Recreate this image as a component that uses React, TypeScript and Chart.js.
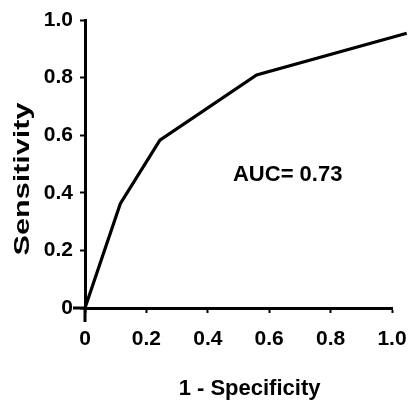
import React, { useEffect, useRef } from "react";
import { Chart, registerables } from "chart.js";

Chart.register(...registerables);

const fpr = [0, 0.115, 0.244, 0.559, 1.048];
const tpr = [0, 0.362, 0.583, 0.809, 0.954];
const xTicks = [0, 0.2, 0.4, 0.6, 0.8, 1.0];
const yTicks = [0, 0.2, 0.4, 0.6, 0.8, 1.0];
const xTitle = "1 - Specificity";
const yTitle = "Sensitivity";
const aucLabel = "AUC= 0.73";

const FONT = "'Liberation Sans', Arial, sans-serif";

const fmt = (v: number) => (v === 0 ? "0" : v.toFixed(1));

export default function App() {
  const ref = useRef<HTMLCanvasElement | null>(null);

  useEffect(() => {
    if (!ref.current) return;
    const extras = {
      id: "extras",
      afterDraw(chart: any) {
        const { ctx, scales } = chart;
        const xs = scales.x;
        const ys = scales.y;
        const x0 = xs.getPixelForValue(0);
        const y0 = ys.getPixelForValue(0);
        ctx.save();
        ctx.strokeStyle = "#000";
        ctx.lineWidth = 3;
        ctx.beginPath();
        ctx.moveTo(x0 - 12, y0);
        ctx.lineTo(x0, y0);
        ctx.moveTo(x0, y0);
        ctx.lineTo(x0, y0 + 14);
        ctx.stroke();
        // rotated y title, stretched along its length
        ctx.fillStyle = "#000";
        ctx.font = `bold 22px ${FONT}`;
        ctx.textAlign = "center";
        ctx.textBaseline = "middle";
        ctx.translate(23, ys.getPixelForValue(0.448));
        ctx.rotate(-Math.PI / 2);
        ctx.scale(1.39, 1);
        ctx.fillText(yTitle, 0, 0);
        ctx.restore();
        ctx.save();
        ctx.fillStyle = "#000";
        ctx.font = `bold 22px ${FONT}`;
        ctx.textAlign = "left";
        ctx.textBaseline = "middle";
        ctx.fillText(aucLabel, xs.getPixelForValue(0.482), ys.getPixelForValue(0.462));
        ctx.textAlign = "center";
        ctx.fillText(xTitle, xs.getPixelForValue(0.536), 389);
        ctx.restore();
      },
    };

    const chart = new Chart(ref.current, {
      type: "line",
      data: {
        datasets: [
          {
            data: fpr.map((x, i) => ({ x, y: tpr[i] })),
            borderColor: "#000",
            borderWidth: 3.2,
            pointRadius: 0,
            tension: 0,
            fill: false,
            clip: false as any,
          },
        ],
      },
      options: {
        animation: false,
        responsive: false,
        maintainAspectRatio: false,
        layout: { padding: { left: 0, right: 19, top: 20, bottom: 0 } },
        plugins: { legend: { display: false }, tooltip: { enabled: false } },
        scales: {
          x: {
            type: "linear",
            min: 0,
            max: 1,
            afterFit: (s: any) => {
              s.height = 92;
              s.paddingLeft = 0;
              s.paddingRight = 0;
            },
            afterBuildTicks: (s: any) => {
              s.ticks = xTicks.map((v) => ({ value: v }));
            },
            border: { display: true, color: "#000", width: 3 },
            grid: {
              drawOnChartArea: false,
              drawTicks: true,
              tickLength: 5,
              tickWidth: 2,
              tickColor: "#000",
            },
            ticks: {
              color: "#000",
              padding: 14,
              font: { family: FONT, size: 21, weight: "bold" },
              callback: (v: any) => fmt(Number(v)),
              maxRotation: 0,
            },
          },
          y: {
            type: "linear",
            min: 0,
            max: 1,
            afterFit: (s: any) => {
              s.width = 85;
              s.paddingTop = 0;
              s.paddingBottom = 0;
            },
            afterBuildTicks: (s: any) => {
              s.ticks = yTicks.map((v) => ({ value: v }));
            },
            border: { display: true, color: "#000", width: 3 },
            grid: {
              drawOnChartArea: false,
              drawTicks: true,
              tickLength: 5,
              tickWidth: 2,
              tickColor: "#000",
            },
            ticks: {
              color: "#000",
              padding: 7,
              font: { family: FONT, size: 21, weight: "bold" },
              callback: (v: any) => fmt(Number(v)),
            },
          },
        },
      },
      plugins: [extras],
    });
    return () => chart.destroy();
  }, []);

  return (
    <div style={{ position: "absolute", left: 0, top: 0, width: 411, height: 400, background: "#fff" }}>
      <canvas ref={ref} width={411} height={400} style={{ width: 411, height: 400, display: "block" }} />
    </div>
  );
}
